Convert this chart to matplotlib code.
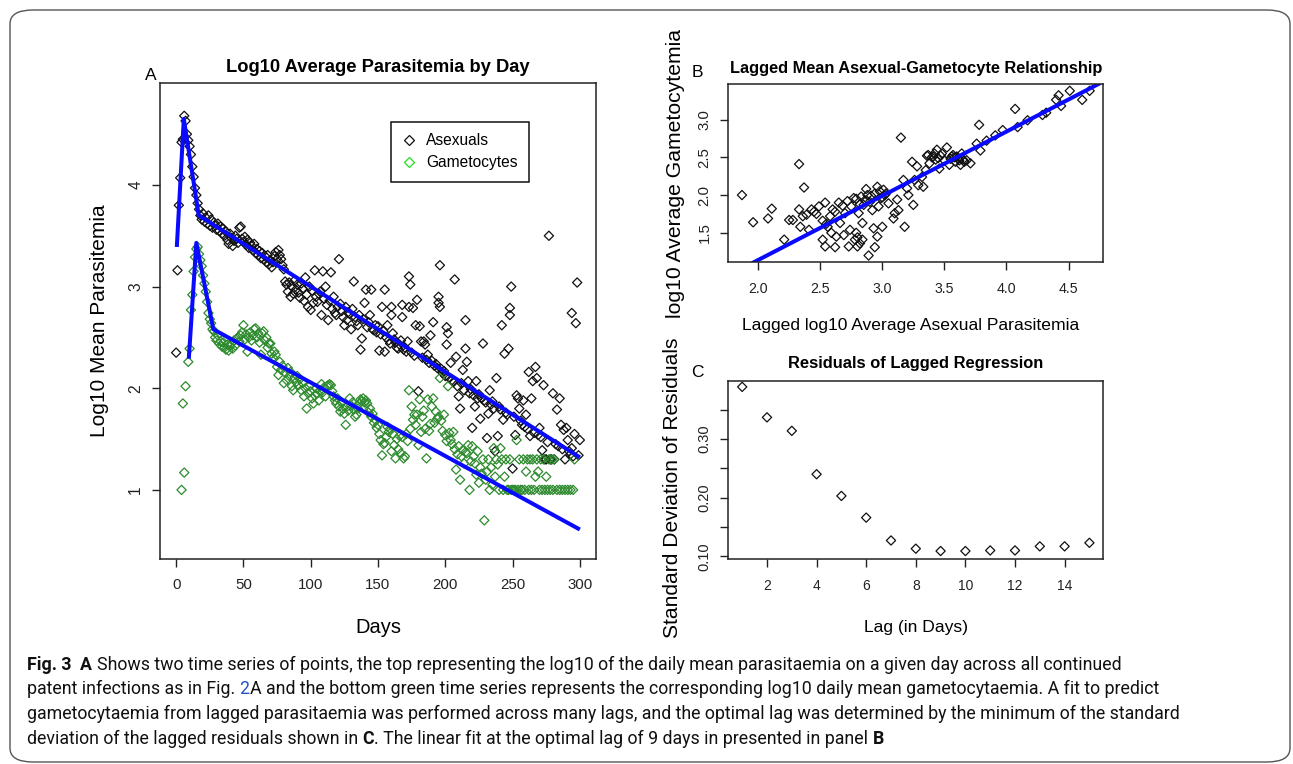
import numpy as np
import matplotlib
matplotlib.use("Agg")
import matplotlib.pyplot as plt
from matplotlib import font_manager
from matplotlib.lines import Line2D
from matplotlib.patches import FancyBboxPatch

# ---------------------------------------------------------------
# data
# ---------------------------------------------------------------
# Panel A: asexual log10 mean, daily for days 0..150
asex_head = [2.35, 3.16, 3.80, 4.07, 4.42, 4.45, 4.68, 4.63, 4.50, 4.44,
             4.38, 4.30, 4.18, 4.08, 3.97, 3.90, 3.82, 3.76, 3.70, 3.66,
             3.72, 3.64, 3.68, 3.62, 3.70, 3.60, 3.66, 3.58, 3.63, 3.60,
             3.56, 3.62, 3.55, 3.59, 3.52, 3.57, 3.50, 3.54, 3.46, 3.42,
             3.52, 3.48, 3.40, 3.45, 3.50, 3.47, 3.43, 3.58, 3.59, 3.47,
             3.44, 3.49, 3.41, 3.46, 3.38, 3.43, 3.40, 3.36, 3.42, 3.33,
             3.37, 3.31, 3.35, 3.28, 3.33, 3.27, 3.30, 3.24, 3.31, 3.22,
             3.26, 3.19, 3.24, 3.30, 3.34, 3.27, 3.36, 3.31, 3.27, 3.21,
             3.17, 3.05, 3.02, 2.95, 3.04, 2.90, 3.00, 2.93, 3.06, 2.97,
             3.02, 2.94, 2.89, 3.03, 2.98, 2.86, 3.09, 2.92, 2.80, 3.00,
             2.77, 2.96, 2.84, 3.16, 2.90, 2.85, 2.93, 2.95, 2.72, 3.15,
             2.88, 3.00, 2.82, 2.67, 2.86, 3.14, 2.78, 2.90, 2.74, 2.72,
             2.80, 3.27, 2.83, 2.76, 2.70, 2.62, 2.80, 2.67, 2.75, 2.73,
             2.58, 2.78, 3.05, 2.70, 2.66, 2.62, 2.72, 2.38, 2.49, 2.68,
             2.84, 2.97, 2.60, 2.65, 2.72, 2.97, 2.58, 2.57, 2.62, 2.55,
             2.61]

asex_tail_day = [151, 152, 153, 154, 155, 155, 156, 157, 158, 159, 160, 160,
                 161, 162, 163, 164, 165, 166, 167, 168, 168, 169, 170, 171,
                 172, 173, 173, 174, 175, 176, 177, 178, 179, 180, 181, 182,
                 183, 184, 185, 186, 187, 188, 189, 190, 191, 192, 193, 194,
                 195, 195, 196, 196, 197, 198, 199, 200, 201, 201, 202, 203,
                 204, 205, 206, 207, 208, 209, 210, 211, 212, 213, 214, 215,
                 215, 216, 217, 218, 219, 220, 221, 222, 223, 224, 225, 226,
                 227, 228, 229, 230, 231, 232, 233, 234, 235, 236, 237, 238,
                 239, 240, 241, 242, 243, 244, 245, 246, 247, 248, 248, 249,
                 250, 251, 252, 253, 254, 255, 256, 257, 258, 259, 260, 261,
                 262, 263, 264, 265, 266, 267, 268, 269, 270, 271, 272, 273,
                 274, 275, 276, 277, 278, 279, 280, 281, 282, 283, 284, 285,
                 286, 287, 288, 289, 290, 291, 292, 293, 294, 294, 295, 296,
                 297, 298, 299, 300]
asex_tail_val = [2.37, 2.53, 2.80, 2.56, 2.97, 2.36, 2.50, 2.62, 2.47, 2.44, 2.72, 2.80,
                 2.54, 2.48, 2.45, 2.40, 2.39, 2.43, 2.47, 2.70, 2.82, 2.38, 2.40, 2.36,
                 2.46, 3.10, 2.80, 3.02, 2.35, 2.79, 2.32, 2.62, 2.87, 1.97, 2.61, 2.46,
                 2.30, 2.46, 2.43, 2.28, 2.33, 2.25, 2.52, 2.27, 2.65, 2.22, 2.24, 2.20,
                 2.84, 2.90, 2.80, 3.21, 2.19, 2.15, 2.17, 2.12, 2.43, 2.60, 2.54, 2.10,
                 2.25, 2.08, 2.06, 3.07, 2.31, 2.02, 1.92, 1.80, 2.05, 2.18, 1.98, 2.39,
                 2.67, 2.26, 2.07, 1.95, 1.99, 1.61, 1.93, 1.82, 2.07, 1.90, 1.94, 1.70,
                 1.90, 2.44, 1.88, 1.86, 1.51, 1.75, 1.98, 1.84, 1.87, 1.80, 1.38, 2.10,
                 1.53, 1.82, 1.79, 2.62, 1.69, 2.34, 1.76, 1.74, 2.39, 2.79, 2.72, 3.00,
                 1.21, 1.72, 1.54, 1.93, 1.90, 1.80, 1.68, 1.64, 1.88, 1.62, 1.74, 1.60,
                 2.16, 1.53, 1.90, 2.07, 1.56, 2.21, 2.10, 1.54, 1.61, 1.52, 1.39, 2.03,
                 1.30, 1.30, 1.47, 3.50, 1.30, 1.30, 1.95, 1.30, 1.45, 1.79, 1.43, 1.90,
                 1.64, 1.40, 1.59, 1.30, 1.61, 1.49, 1.38, 1.35, 1.41, 2.74, 1.33, 1.55,
                 2.64, 3.04, 1.34, 1.49]

# Panel A: gametocyte log10 mean
game_early_day = [4, 5, 6, 7, 9]
game_early_val = [1.00, 1.85, 1.17, 2.02, 2.26]
# daily from day 10 to day 281
game_daily = [2.39, 2.77, 2.92, 3.15, 3.29, 3.37, 3.39, 3.32, 3.26, 3.20,
              3.11, 3.03, 2.95, 2.85, 2.74, 2.68, 2.64, 2.58, 2.56, 2.50,
              2.47, 2.52, 2.44, 2.46, 2.41, 2.45, 2.40, 2.38, 2.43, 2.37,
              2.41, 2.44, 2.39, 2.47, 2.42, 2.49, 2.50, 2.46, 2.52, 2.55,
              2.62, 2.48, 2.53, 2.36, 2.50, 2.55, 2.47, 2.52, 2.58, 2.59,
              2.50, 2.54, 2.45, 2.33, 2.54, 2.56, 2.47, 2.50, 2.40, 2.44,
              2.44, 2.34, 2.30, 2.36, 2.33, 2.21, 2.13, 2.26, 2.18, 2.22,
              2.05, 2.15, 2.08, 2.20, 2.12, 2.16, 2.02, 1.98, 2.10, 2.06,
              2.12, 2.03, 2.09, 1.98, 2.05, 1.92, 2.00, 1.80, 1.95, 2.02,
              1.97, 1.90, 1.85, 1.93, 2.00, 1.95, 1.88, 1.98, 2.04, 1.96,
              2.01, 1.92, 2.02, 2.03, 2.04, 2.03, 1.97, 1.92, 1.88, 1.85,
              1.90, 1.82, 1.77, 1.86, 1.80, 1.75, 1.64, 1.82, 1.78, 1.90,
              1.83, 1.86, 1.79, 1.72, 1.74, 1.80, 1.85, 1.89, 1.87, 1.90,
              1.86, 1.88, 1.85, 1.76, 1.80, 1.72, 1.75, 1.66, 1.69, 1.61,
              1.64, 1.55, 1.49, 1.34, 1.45, 1.46, 1.52, 1.62, 1.57, 1.60,
              1.38, 1.55, 1.44, 1.31, 1.50, 1.40, 1.53, 1.36, 1.52, 1.31,
              1.33, 1.55, 1.48, 1.98, 1.60, 1.82, 1.69, 1.74, 1.64, 1.74,
              1.44, 1.89, 1.57, 1.72, 1.78, 1.60, 1.31, 1.89, 1.58, 1.65,
              1.82, 1.90, 1.66, 1.77, 1.70, 1.72, 2.10, 1.68, 1.58, 1.74,
              1.54, 1.48, 2.02, 1.56, 1.49, 1.45, 1.57, 1.40, 1.20, 1.35,
              1.43, 1.10, 1.33, 1.39, 1.26, 1.37, 1.36, 1.44, 1.00, 1.28,
              1.43, 1.33, 1.26, 1.15, 1.38, 1.07, 1.22, 1.16, 1.30, 0.70,
              1.10, 1.18, 1.30, 1.00, 1.22, 1.05, 1.41, 1.13, 1.30, 1.25,
              1.00, 1.41, 1.30, 1.00, 1.13, 1.30, 1.00, 1.00, 1.30, 1.00,
              1.00, 1.00, 1.00, 1.49, 1.00, 1.30, 1.00, 1.00, 1.30, 1.00,
              1.18, 1.30, 1.00, 1.30, 1.00, 1.30, 1.00, 1.13, 1.30, 1.18,
              1.00, 1.30, 1.00, 1.30, 1.00, 1.13, 1.00, 1.30, 1.00, 1.30,
              1.00, 1.30]
game_tail_day = [283, 285, 287, 289, 291, 293, 295, 296]
game_tail_val = [1.00, 1.00, 1.00, 1.00, 1.00, 1.00, 1.00, 1.30]

# piecewise fits drawn in blue
asex_fit_day = [0.5, 5.7, 16.8, 300]
asex_fit_val = [3.39, 4.65, 3.70, 1.32]
game_fit_day = [9.4, 15.0, 27.6, 300]
game_fit_val = [2.29, 3.43, 2.58, 0.61]

# Panel B: lagged asexual vs gametocyte
lag_asex = [1.87, 1.96, 2.08, 2.11, 2.21, 2.25, 2.28, 2.33, 2.33, 2.37,
            2.34, 2.36, 2.39, 2.43, 2.45, 2.47, 2.41, 2.52, 2.54, 2.52,
            2.54, 2.56, 2.59, 2.60, 2.62, 2.63, 2.65, 2.66, 2.69, 2.70,
            2.73, 2.74, 2.75, 2.77, 2.78, 2.79, 2.80, 2.81, 2.82, 2.84,
            2.84, 2.85, 2.87, 2.88, 2.89, 2.90, 2.92, 2.93, 2.94, 2.96,
            2.96, 2.97, 2.98, 3.00, 3.00, 3.01, 3.02, 3.05, 3.09, 3.10,
            3.12, 3.13, 3.15, 3.17, 3.18, 3.20, 3.21, 3.24, 3.25, 3.26,
            3.28, 3.29, 3.32, 3.33, 3.35, 3.37, 3.38, 3.41, 3.42, 3.44,
            3.45, 3.46, 3.48, 3.50, 3.52, 3.54, 3.56, 3.57, 3.59, 3.61,
            3.63, 3.64, 3.66, 3.68, 3.71, 3.76, 3.78, 3.79, 3.84, 3.91,
            3.97, 4.07, 4.09, 4.17, 4.29, 4.32, 4.40, 4.42, 4.44, 4.51,
            4.61, 4.67, 2.55, 2.62, 2.68, 2.72, 2.79, 2.83, 2.86, 2.91,
            2.94, 2.99, 3.03, 3.40, 3.43, 3.47, 3.55, 3.58, 3.62, 3.65,
            2.80, 2.82, 2.58, 2.49, 3.36, 3.60]
lag_game = [2.00, 1.64, 1.69, 1.82, 1.41, 1.67, 1.67, 1.81, 2.41, 2.10,
            1.58, 1.72, 1.74, 1.81, 1.78, 1.75, 1.54, 1.66, 1.90, 1.41,
            1.32, 1.58, 1.50, 1.81, 1.31, 1.45, 1.90, 1.63, 1.47, 1.76,
            1.32, 1.54, 1.85, 1.96, 1.41, 1.50, 1.32, 1.76, 1.88, 1.63,
            1.41, 1.87, 2.08, 2.00, 1.20, 1.91, 1.80, 1.56, 1.31, 1.45,
            2.11, 1.85, 2.05, 1.97, 1.58, 2.07, 2.00, 1.89, 1.69, 1.76,
            1.94, 1.80, 2.76, 2.20, 1.58, 2.09, 2.00, 2.44, 1.87, 2.20,
            2.38, 2.13, 2.24, 2.11, 2.33, 2.53, 2.42, 2.51, 2.55, 2.60,
            2.49, 2.35, 2.55, 2.46, 2.63, 2.40, 2.51, 2.53, 2.44, 2.49,
            2.40, 2.55, 2.44, 2.46, 2.42, 2.68, 2.93, 2.59, 2.72, 2.79,
            2.86, 3.14, 2.90, 2.99, 3.06, 3.09, 3.26, 3.32, 3.18, 3.38,
            3.26, 3.38, 1.62, 1.78, 1.86, 1.92, 1.95, 1.98, 1.93, 1.99,
            2.02, 1.96, 2.02, 2.50, 2.47, 2.52, 2.48, 2.50, 2.46, 2.47,
            1.44, 1.36, 1.72, 1.85, 2.52, 2.51]
fit_intercept = -0.56
fit_slope = 0.85

# Panel C: residual SD by lag
lags = [1, 2, 3, 4, 5, 6, 7, 8, 9, 10, 11, 12, 13, 14, 15]
resid_sd = [0.389, 0.337, 0.314, 0.240, 0.203, 0.166, 0.127, 0.113,
            0.109, 0.109, 0.110, 0.110, 0.117, 0.117, 0.123]

# ---------------------------------------------------------------
W, H = 1293, 764
names = {f.name for f in font_manager.fontManager.ttflist}
BASE = 'Liberation Sans'
NARROW = 'Liberation Sans Narrow' if 'Liberation Sans Narrow' in names else None
plt.rcParams['font.family'] = [BASE, 'DejaVu Sans']


def hfont(size):
    # horizontal text in the squeezed panels B and C
    if NARROW:
        return dict(family=NARROW, fontsize=size / 0.82)
    return dict(family=BASE, fontsize=size)


def px_axes(left, top, right, bottom):
    return [left / W, 1 - bottom / H, (right - left) / W, (bottom - top) / H]


def style_axes(ax):
    for s in ax.spines.values():
        s.set_linewidth(1.1)
        s.set_color('#222222')
    ax.tick_params(direction='out', length=6, width=1.0, color='#222222',
                   top=False, right=False, labelcolor='#222222')
    ax.tick_params(axis='x', pad=8)
    ax.tick_params(axis='y', pad=6, labelrotation=90)
    plt.setp(ax.get_yticklabels(), va='center')


def place_labels(ax, xy_x, xy_y):
    ax.xaxis.set_label_coords(*xy_x)
    ax.yaxis.set_label_coords(*xy_y)
    ax.xaxis.label.set_va('center')
    ax.yaxis.label.set_va('center')


fig = plt.figure(figsize=(W / 100, H / 100), dpi=100)

# outer rounded frame
frame = FancyBboxPatch((10 / W, 2 / H), 1280 / W, 752 / H,
                       boxstyle="round,pad=0,rounding_size=0.018",
                       transform=fig.transFigure, fill=False,
                       edgecolor='#555555', linewidth=1.0)
fig.patches.append(frame)

mk = dict(marker='D', s=22, facecolors='none', linewidths=0.9)

# ---------------- Panel A ----------------
axA = fig.add_axes(px_axes(160, 83.3, 596, 559))
days_head = np.arange(len(asex_head))
game_days = np.arange(10, 10 + len(game_daily))
axA.scatter(days_head, asex_head, edgecolors='#111111', **mk)
axA.scatter(asex_tail_day, asex_tail_val, edgecolors='#111111', **mk)
axA.scatter(game_early_day, game_early_val, edgecolors='#2e8b2e', **mk)
axA.scatter(game_days, game_daily, edgecolors='#2e8b2e', **mk)
axA.scatter(game_tail_day, game_tail_val, edgecolors='#2e8b2e', **mk)
axA.plot(asex_fit_day, asex_fit_val, color='#0a0aff', lw=2.9, solid_capstyle='butt')
axA.plot(game_fit_day, game_fit_val, color='#0a0aff', lw=2.9, solid_capstyle='butt')
axA.set_xlim(-12, 312)
axA.set_ylim(0.32, 5.0)
axA.set_xticks([0, 50, 100, 150, 200, 250, 300])
axA.set_yticks([1, 2, 3, 4])
style_axes(axA)
plt.setp(axA.get_xticklabels(), fontsize=10.8)
plt.setp(axA.get_yticklabels(), fontsize=11.2)
axA.set_xlabel('Days', fontsize=14.5)
axA.set_ylabel('Log10 Mean Parasitemia', fontsize=15)
place_labels(axA, (0.5, -0.145), (-0.138, 0.5))
axA.text(0.5, 1.034, 'Log10 Average Parasitemia by Day', transform=axA.transAxes,
         ha='center', va='center', fontsize=13.2, fontweight='bold')
axA.text(-0.021, 1.017, 'A', transform=axA.transAxes, ha='center', va='center',
         fontsize=12.5)

h1 = Line2D([], [], ls='none', marker='D', ms=4.8, mfc='none', mec='#111111', mew=0.9)
h2 = Line2D([], [], ls='none', marker='D', ms=4.8, mfc='none', mec='#22dd22', mew=0.9)
leg = axA.legend([h1, h2], ['Asexuals', 'Gametocytes'], loc='upper left',
                 bbox_to_anchor=(0.530, 0.919), frameon=True, fancybox=False,
                 edgecolor='#111111', framealpha=1, borderaxespad=0,
                 handlelength=0.8, handletextpad=0.7, borderpad=0.75,
                 labelspacing=0.45, fontsize=11.2)
leg.get_frame().set_linewidth(1.1)

# ---------------- Panel B ----------------
axB = fig.add_axes(px_axes(728.3, 84, 1103.3, 262.3))
axB.scatter(lag_asex, lag_game, edgecolors='#111111', **mk)
axB.axline((0, fit_intercept), slope=fit_slope, color='#0a0aff', lw=2.9)
axB.set_xlim(1.76, 4.78)
axB.set_ylim(1.11, 3.47)
axB.set_xticks([2.0, 2.5, 3.0, 3.5, 4.0, 4.5])
axB.set_yticks([1.5, 2.0, 2.5, 3.0])
style_axes(axB)
axB.set_xticklabels(['2.0', '2.5', '3.0', '3.5', '4.0', '4.5'], **hfont(10.2))
axB.set_yticklabels(['1.5', '2.0', '2.5', '3.0'], fontsize=10.8, rotation=90, va='center')
axB.set_xlabel('Lagged log10 Average Asexual Parasitemia', **hfont(12.6))
axB.set_ylabel('log10 Average Gametocytemia', fontsize=15.2)
place_labels(axB, (0.487, -0.352), (-0.142, 0.50))
axB.text(0.5, 1.088, 'Lagged Mean Asexual-Gametocyte Relationship',
         transform=axB.transAxes, ha='center', va='center', fontweight='bold',
         **hfont(11.8))
axB.text(-0.083, 1.062, 'B', transform=axB.transAxes, ha='center', va='center',
         **hfont(12.5))

# ---------------- Panel C ----------------
axC = fig.add_axes(px_axes(728.3, 381, 1103.3, 559.3))
axC.scatter(lags, resid_sd, edgecolors='#111111', **mk)
axC.set_xlim(0.44, 15.56)
axC.set_ylim(0.0949, 0.399)
axC.set_xticks([2, 4, 6, 8, 10, 12, 14])
axC.set_yticks([0.10, 0.15, 0.20, 0.25, 0.30, 0.35])
style_axes(axC)
axC.set_xticklabels(['2', '4', '6', '8', '10', '12', '14'], **hfont(10.0))
axC.set_yticklabels(['0.10', '', '0.20', '', '0.30', ''], fontsize=10.5,
                    rotation=90, va='center')
axC.set_xlabel('Lag (in Days)', **hfont(12.6))
axC.set_ylabel('Standard Deviation of Residuals', fontsize=15.1)
place_labels(axC, (0.5, -0.385), (-0.148, 0.40))
axC.text(0.5, 1.099, 'Residuals of Lagged Regression', transform=axC.transAxes,
         ha='center', va='center', fontweight='bold', **hfont(11.9))
axC.text(-0.083, 1.05, 'C', transform=axC.transAxes, ha='center', va='center',
         **hfont(12.5))

# ---------------- caption ----------------
CAP = NARROW if NARROW else 'Roboto'
cap_lines = [
    [('Fig. 3', 'bold', '#111111', 0), ('A', 'bold', '#111111', 2),
     ('Shows two time series of points, the top representing the log10 of the daily '
      'mean parasitaemia on a given day across all continued', 'normal', '#111111', 1)],
    [('patent infections as in Fig.', 'normal', '#111111', 0), ('2', 'normal', '#2255cc', 1),
     ('A and the bottom green time series represents the corresponding log10 daily '
      'mean gametocytaemia. A fit to predict', 'normal', '#111111', 0)],
    [('gametocytaemia from lagged parasitaemia was performed across many lags, and the '
      'optimal lag was determined by the minimum of the standard', 'normal', '#111111', 0)],
    [('deviation of the lagged residuals shown in', 'normal', '#111111', 0),
     ('C', 'bold', '#111111', 1),
     ('. The linear fit at the optimal lag of 9 days in presented in panel', 'normal', '#111111', 0),
     ('B', 'bold', '#111111', 1)],
]
cap_base = [670, 694.5, 719, 743.5]

fig.canvas.draw()
renderer = fig.canvas.get_renderer()


def text_w(s, size, weight):
    t = fig.text(0, 0, s, fontsize=size, fontweight=weight, family=CAP)
    w = t.get_window_extent(renderer).width
    t.remove()
    return w


def line_width(segs, size):
    sp = text_w('x x', size, 'normal') - text_w('xx', size, 'normal')
    return sum(text_w(s, size, wt) + n * sp for s, wt, c, n in segs)


size0 = 10.0
cap_size = size0 * 1093 / line_width(cap_lines[0], size0)
space = text_w('x x', cap_size, 'normal') - text_w('xx', cap_size, 'normal')

for segs, yb in zip(cap_lines, cap_base):
    x = 27.0
    for s, wt, c, n in segs:
        x += n * space
        fig.text(x / W, 1 - yb / H, s, fontsize=cap_size, fontweight=wt, color=c,
                 family=CAP, ha='left', va='baseline')
        x += text_w(s, cap_size, wt)

fig.savefig('out.png', dpi=100)
